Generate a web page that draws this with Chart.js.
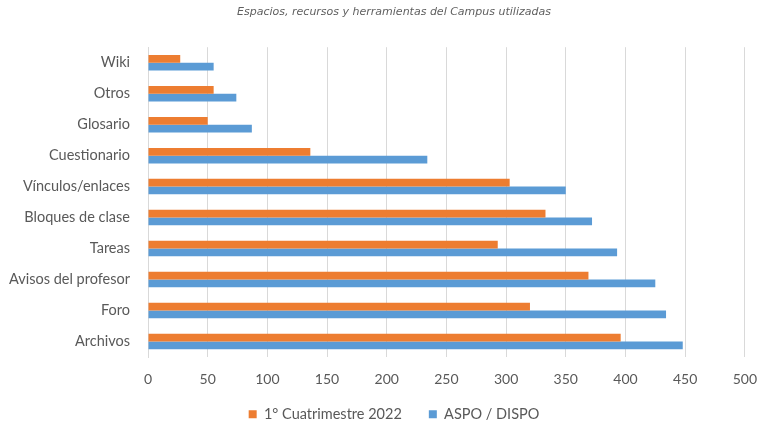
<!DOCTYPE html>
<html>
<head>
<meta charset="utf-8">
<script src="https://cdn.jsdelivr.net/npm/chart.js@4"></script>
<style>
  html, body { margin: 0; padding: 0; background: #fff; }
  #wrap { width: 771px; height: 425px; }
</style>
</head>
<body>
<div id="wrap"><canvas id="grafico"></canvas></div>
<script>
const categorias = ["Wiki", "Otros", "Glosario", "Cuestionario", "Vínculos/enlaces",
    "Bloques de clase", "Tareas", "Avisos del profesor", "Foro", "Archivos"];
const cuatrimestre2022 = [27, 55, 50, 136, 303, 333, 293, 369, 320, 396];
const aspoDispo = [55, 74, 87, 234, 350, 372, 393, 425, 434, 448];
const ticksX = [0, 50, 100, 150, 200, 250, 300, 350, 400, 450, 500];

const gris = "#595959";
const fuente = "Lato, 'Open Sans', sans-serif";

const datasets = [
    {
        label: "1° Cuatrimestre 2022",
        data: cuatrimestre2022,
        backgroundColor: "#ed7d31",
    },
    {
        label: "ASPO / DISPO",
        data: aspoDispo,
        backgroundColor: "#5b9bd5",
    },
];

// el titulo y la leyenda van centrados un poco a la derecha, como en Excel
const correrCajas = {
    id: "correrCajas",
    afterLayout: (chart) => {
        chart.titleBlock.left += 34;
        chart.legend.left += 34;
        chart.legend.top -= 7;
    },
};

const config = {
    type: "bar",
    data: { labels: categorias, datasets },
    options: {
        indexAxis: "y",
        responsive: true,
        maintainAspectRatio: false,
        animation: false,
        datasets: { bar: { categoryPercentage: 0.5, barPercentage: 1 } },
        layout: { padding: { left: 0, right: 17, top: 0, bottom: 0 } },
        plugins: {
            title: {
                display: true,
                text: "Espacios, recursos y herramientas del Campus utilizadas",
                color: "#606060",
                font: { family: "'DejaVu Sans', sans-serif", size: 11, style: "italic", weight: "normal" },
                padding: { top: 6, bottom: 28 },
            },
            legend: {
                position: "bottom",
                maxHeight: 38,
                labels: {
                    color: gris,
                    font: { family: fuente, size: 14.5 },
                    boxWidth: 8,
                    boxHeight: 8,
                    padding: 27,
                },
            },
            tooltip: { enabled: false },
        },
        scales: {
            x: {
                min: 0,
                max: 500,
                afterBuildTicks: (scale) => {
                    scale.ticks = ticksX.map((v) => ({ value: v }));
                },
                afterFit: (scale) => { scale.height = 30; },
                grid: { color: "#d9d9d9", drawTicks: false },
                border: { display: false },
                ticks: {
                    color: gris,
                    font: { family: fuente, size: 14 },
                    padding: 14,
                },
            },
            y: {
                afterFit: (scale) => { scale.width = 148; },
                grid: { display: false, drawTicks: false },
                border: { color: "#d9d9d9" },
                ticks: {
                    color: gris,
                    font: { family: fuente, size: 14.5 },
                    padding: 18,
                },
            },
        },
    },
    plugins: [correrCajas],
};

const myChart = new Chart(document.querySelector("#grafico"), config);
</script>
</body>
</html>
